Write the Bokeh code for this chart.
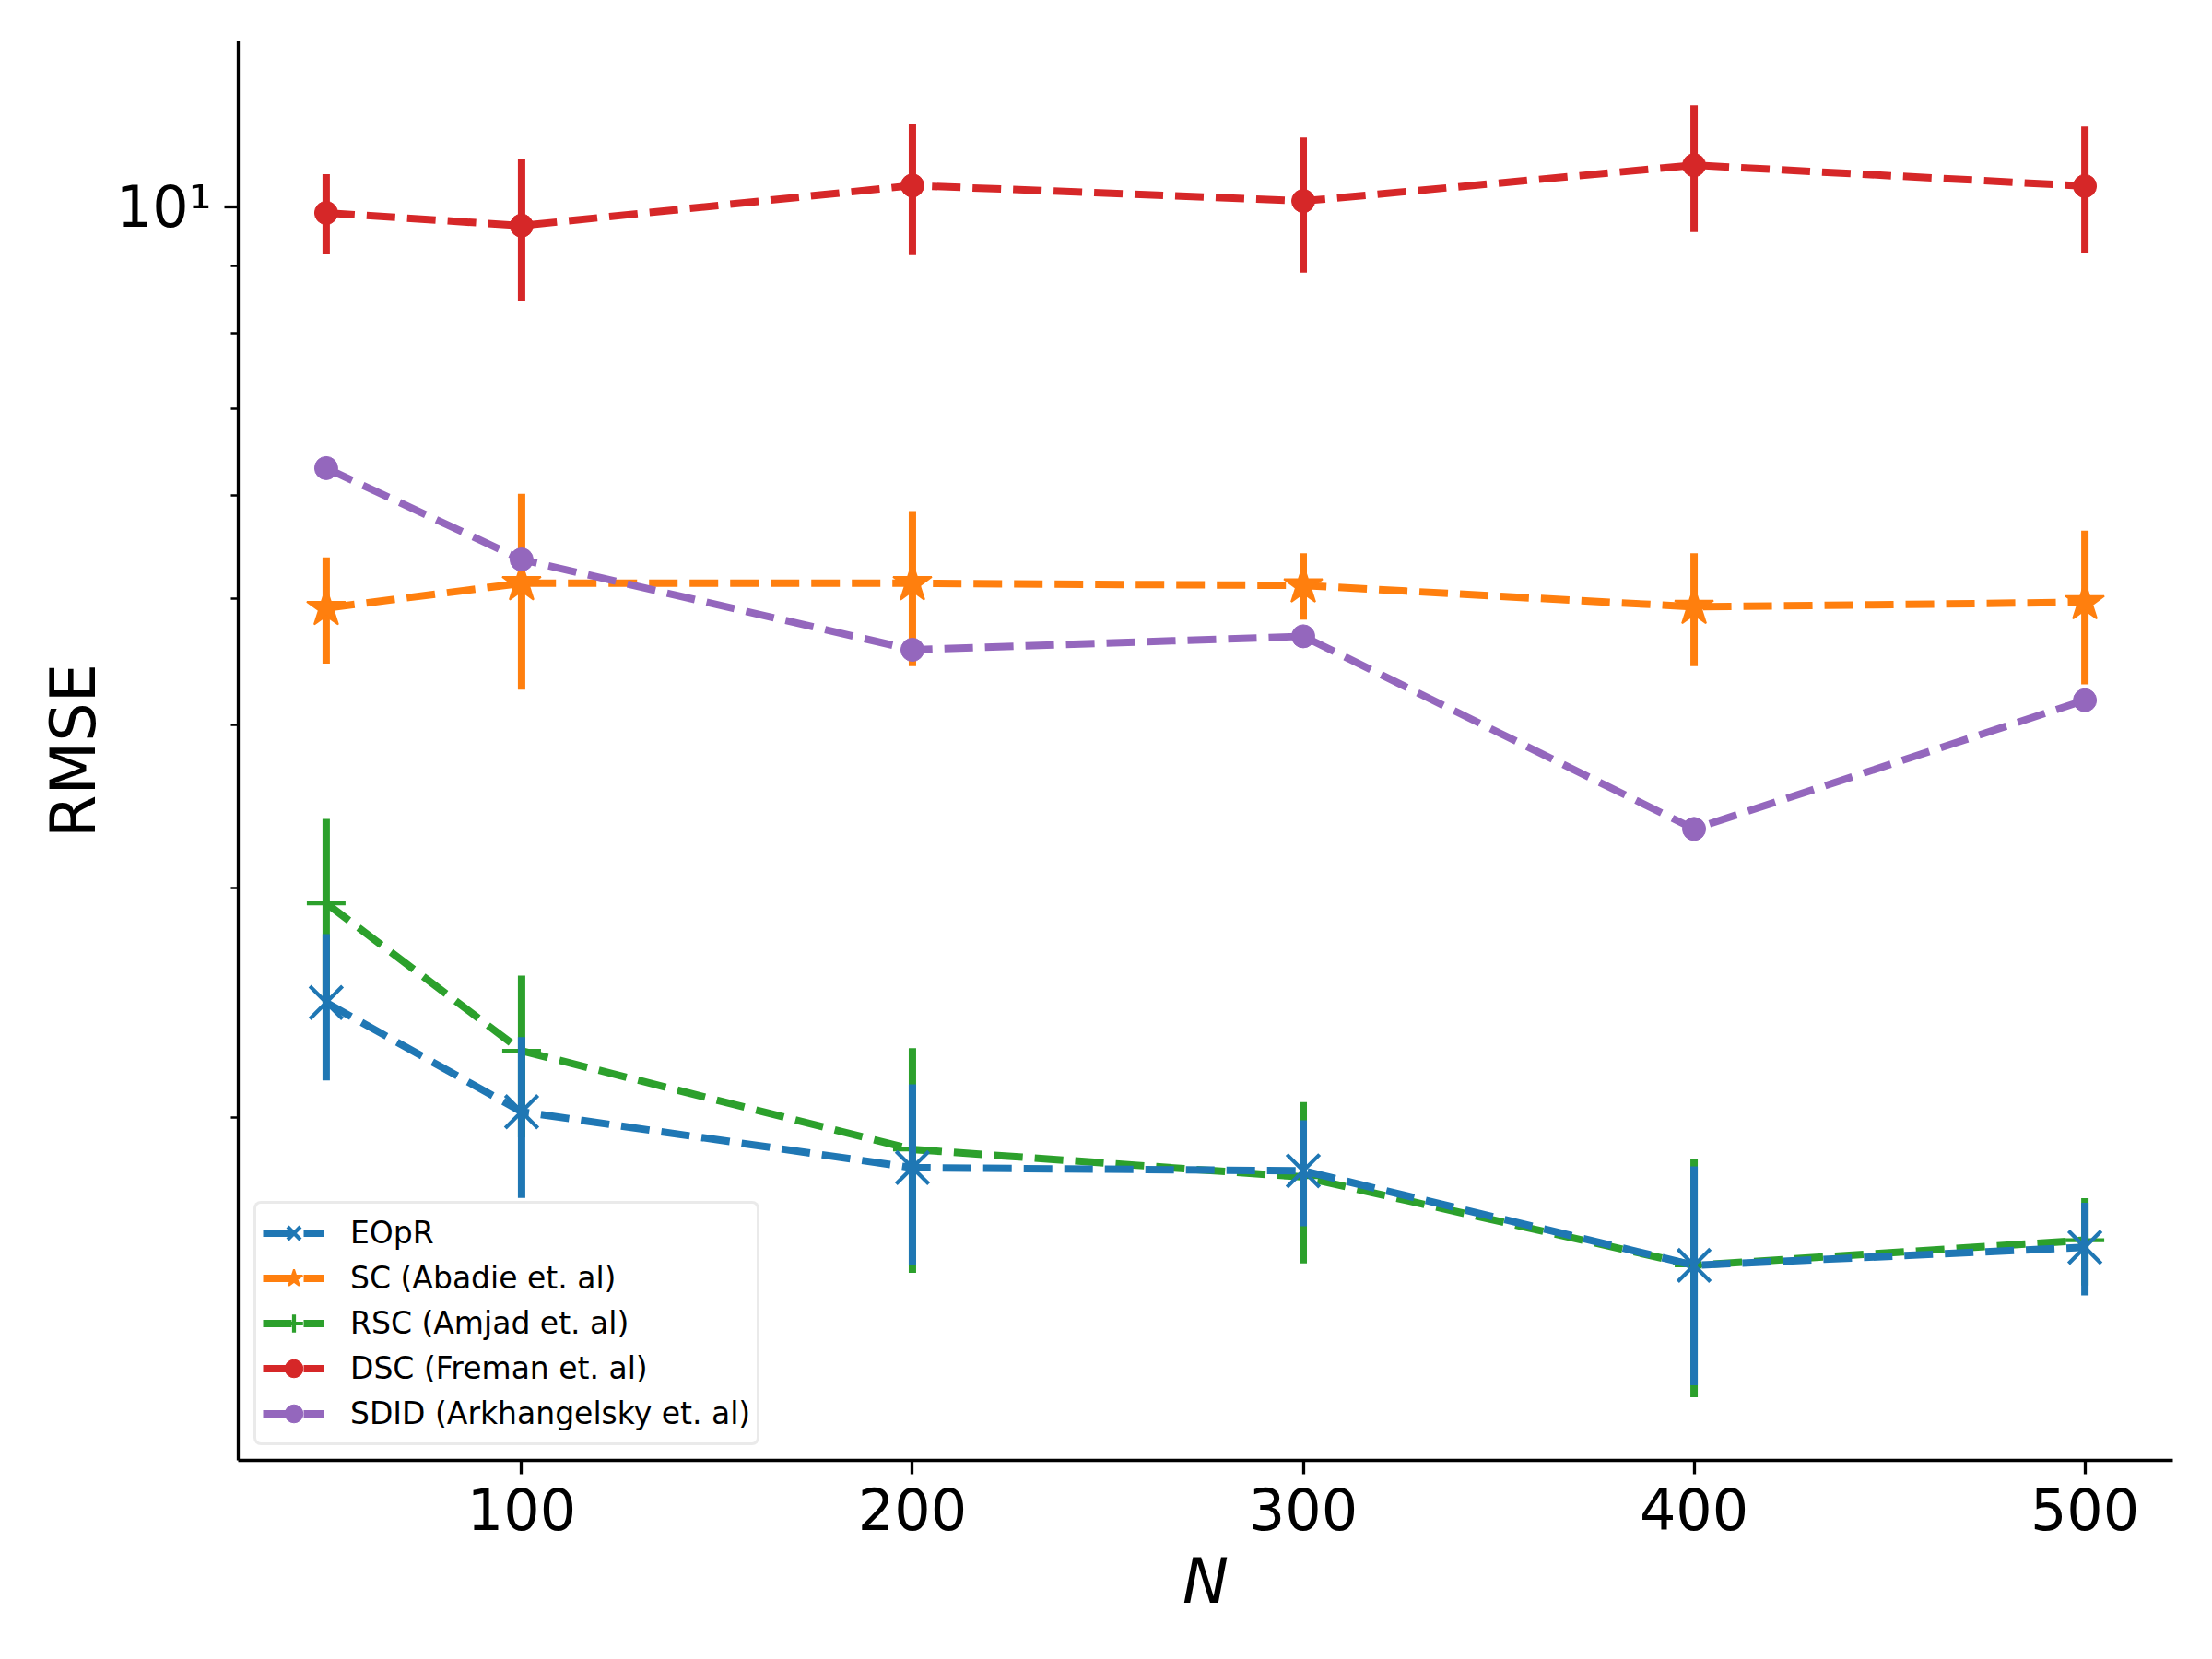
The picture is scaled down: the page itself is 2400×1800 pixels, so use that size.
from bokeh.plotting import figure
from bokeh.models import FixedTicker, Legend, LegendItem, CustomJSTickFormatter, Range1d
from bokeh.embed import file_html
from bokeh.resources import INLINE

# ---- data ----
N = [50, 100, 200, 300, 400, 500]

eopr = [2.45, 2.02, 1.83, 1.82, 1.54, 1.59]
eopr_err = [0.315, 0.285, 0.29, 0.17, 0.294, 0.13]

sc = [4.92, 5.14, 5.14, 5.12, 4.93, 4.97]
sc_err = [0.46, 0.88, 0.70, 0.30, 0.49, 0.67]

rsc = [2.92, 2.25, 1.89, 1.80, 1.54, 1.61]
rsc_err = [0.47, 0.32, 0.37, 0.255, 0.32, 0.124]

dsc = [9.89, 9.67, 10.38, 10.10, 10.76, 10.37]
dsc_err = [0.70, 1.21, 1.20, 1.20, 1.20, 1.15]

sdid = [6.30, 5.36, 4.57, 4.68, 3.33, 4.18]

labels = ["EOpR", "SC (Abadie et. al)", "RSC (Amjad et. al)",
          "DSC (Freman et. al)", "SDID (Arkhangelsky et. al)"]
x_ticks = [100, 200, 300, 400, 500]
y_major = [10]
y_minor = [2, 3, 4, 5, 6, 7, 8, 9]

BLUE, ORANGE, GREEN, RED, PURPLE = "#1f77b4", "#ff7f0e", "#2ca02c", "#d62728", "#9467bd"
FONT = "DejaVu Sans"
LW = 8
DASH = "31 13"

p = figure(width=2384, height=1784, y_axis_type="log",
           x_range=Range1d(27.5, 522.5), y_range=Range1d(1.091, 13.40),
           output_backend="svg", toolbar_location=None,
           min_border_left=258, min_border_right=27,
           min_border_top=44, min_border_bottom=200)
p.outline_line_color = None
p.grid.visible = False
p.background_fill_color = "white"
p.border_fill_color = "white"


def series(vals, errs, color, marker, size, filled, mlw):
    rs = []
    if errs is not None:
        lo = [v - e for v, e in zip(vals, errs)]
        hi = [v + e for v, e in zip(vals, errs)]
        p.segment(x0=N, y0=lo, x1=N, y1=hi, line_color=color, line_width=LW)
    ln = p.line(N, vals, line_color=color, line_width=LW, line_dash=DASH, line_join="round")
    rs.append(ln)
    kw = dict(marker=marker, size=size, line_color=color, line_width=mlw)
    if filled:
        kw["fill_color"] = color
    else:
        kw["fill_color"] = None
    mk = p.scatter(N, vals, **kw)
    rs.append(mk)
    return rs


r_sc = series(sc, sc_err, ORANGE, "star", 44, True, 2)
r_rsc = series(rsc, rsc_err, GREEN, "cross", 42, False, 4.2)
r_dsc = series(dsc, dsc_err, RED, "circle", 25, True, 1)
r_sdid = series(sdid, None, PURPLE, "circle", 25, True, 1)
r_eopr = series(eopr, eopr_err, BLUE, "x", 50, False, 4.2)

# ---- axes ----
for ax in (p.xaxis[0], p.yaxis[0]):
    ax.axis_line_width = 3.3
    ax.axis_line_color = "black"
    ax.major_tick_line_width = 3.3
    ax.minor_tick_line_width = 2.5
    ax.major_tick_out = 15
    ax.major_tick_in = 0
    ax.minor_tick_out = 8
    ax.minor_tick_in = 0
    ax.major_label_text_font = FONT
    ax.major_label_text_font_size = "62px"
    ax.major_label_text_color = "black"
    ax.major_label_standoff = 14
    ax.axis_label_text_font = FONT
    ax.axis_label_text_font_size = "67px"
    ax.axis_label_text_color = "black"

p.xaxis.ticker = FixedTicker(ticks=x_ticks, minor_ticks=[])
p.yaxis.ticker = FixedTicker(ticks=y_major, minor_ticks=y_minor)
p.yaxis.formatter = CustomJSTickFormatter(
    code="return (Math.abs(tick - 10) < 1e-6) ? '10\u00b9' : '';")

p.xaxis.axis_label = "N"
p.xaxis.axis_label_text_font_style = "italic"
p.xaxis.axis_label_standoff = 14
p.yaxis.axis_label = "RMSE"
p.yaxis.axis_label_text_font_style = "normal"
p.yaxis.axis_label_standoff = 4

# ---- legend ----
items = [
    LegendItem(label=labels[0], renderers=r_eopr),
    LegendItem(label=labels[1], renderers=r_sc),
    LegendItem(label=labels[2], renderers=r_rsc),
    LegendItem(label=labels[3], renderers=r_dsc),
    LegendItem(label=labels[4], renderers=r_sdid),
]
legend = Legend(items=items, location=(17, 16), margin=0,
                label_text_font=FONT, label_text_font_size="33px",
                label_text_color="black",
                glyph_width=67, glyph_height=49, spacing=0, padding=7,
                label_standoff=28,
                border_line_color="#d6d6d6", border_line_width=3.3,
                background_fill_color="white", background_fill_alpha=0.8)
try:
    legend.border_radius = 8
except Exception:
    pass
p.add_layout(legend)

open("out.html", "w").write(file_html(p, INLINE))
